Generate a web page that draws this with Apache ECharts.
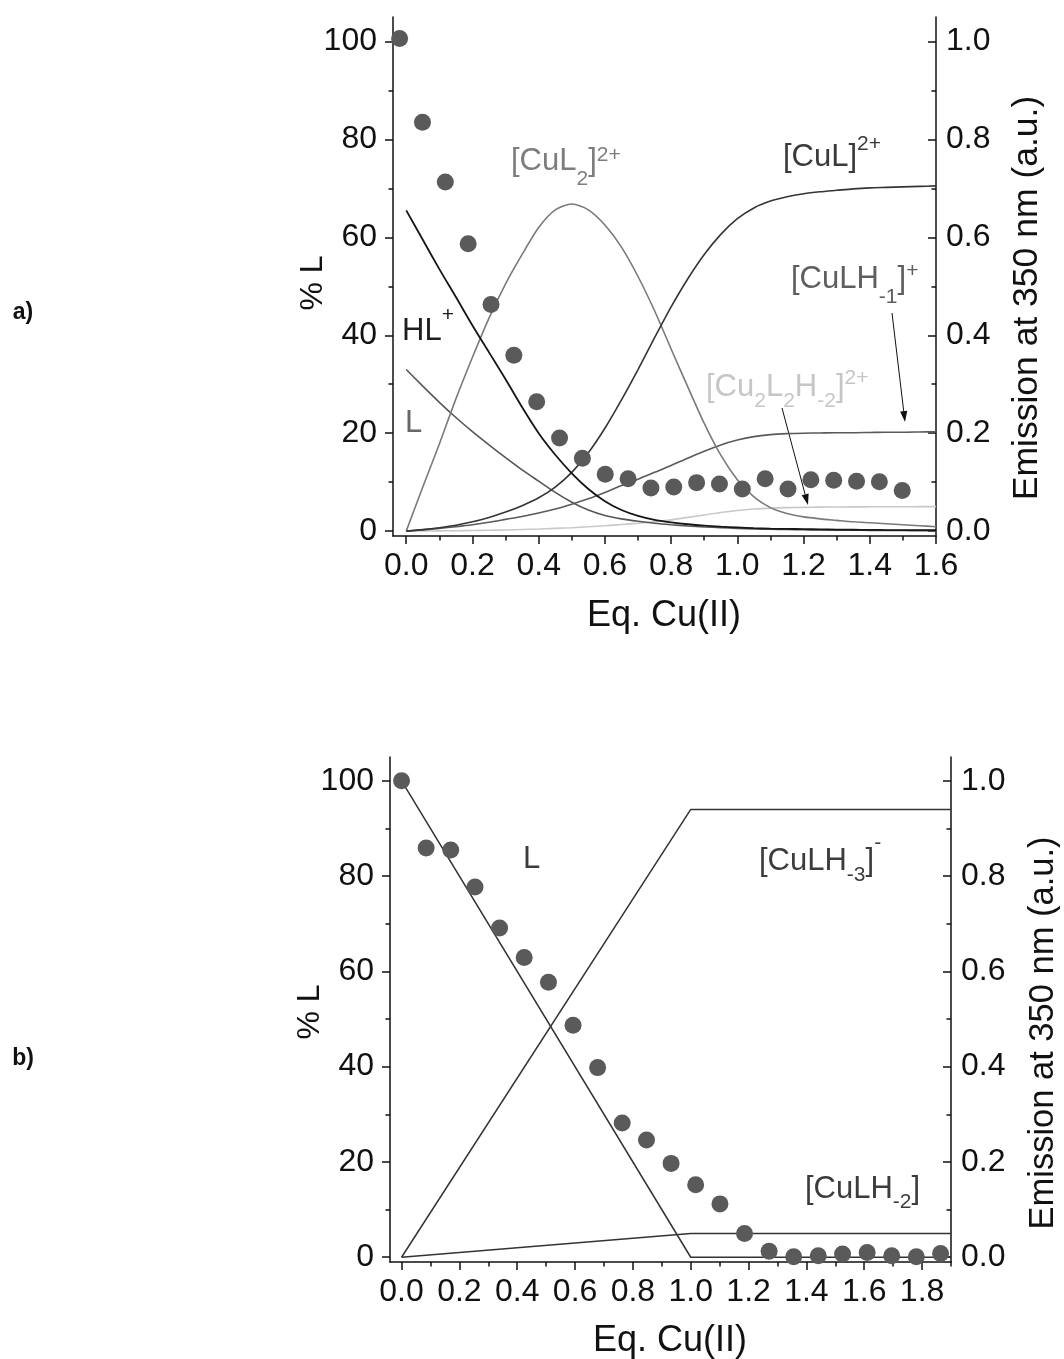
<!DOCTYPE html>
<html><head><meta charset="utf-8">
<script src="https://cdn.jsdelivr.net/npm/echarts@6/dist/echarts.min.js"></script>
<style>html,body{margin:0;padding:0;background:#fff}#c{width:1064px;height:1359px}</style>
</head><body><div id="c"></div>
<script>
// ---------- DATA ----------
// Panel a) species distribution (% L) vs Eq. Cu(II)
const topX   = [0,0.05,0.1,0.15,0.2,0.25,0.3,0.35,0.4,0.45,0.5,0.55,0.6,0.65,0.7,0.75,0.8,0.85,0.9,0.95,1.0,1.05,1.1,1.15,1.2,1.25,1.3,1.35,1.4,1.45,1.5,1.55,1.6];
const topHL  = [65.5,59.5,53.5,47.8,42.0,36.5,31.0,25.3,20.0,15.6,11.8,8.6,6.1,4.3,3.1,2.3,1.8,1.4,1.1,0.9,0.75,0.6,0.5,0.45,0.4,0.35,0.3,0.28,0.25,0.22,0.2,0.19,0.18];
const topL   = [33,29.6,26.3,23.2,20.3,17.6,15.0,12.5,10.2,7.9,5.9,4.3,3.2,2.5,2.0,1.6,1.3,1.05,0.85,0.7,0.55,0.45,0.38,0.32,0.27,0.23,0.2,0.17,0.15,0.13,0.11,0.1,0.09];
const topCuL2 = [0,9.0,17.8,27.0,35.5,43.5,50.5,56.5,62.0,65.6,66.8,65.6,62.5,58.0,52.0,45.0,37.2,29.5,22.0,15.5,10.5,7.0,4.8,3.6,2.9,2.5,2.2,1.9,1.7,1.5,1.3,1.1,0.9];
const topCuL  = [0,0.3,0.7,1.2,1.9,2.8,3.9,5.2,6.8,9.0,12.0,16.0,21.0,26.8,33.0,39.5,45.8,51.5,56.5,60.6,63.8,66.0,67.4,68.3,68.9,69.3,69.6,69.9,70.1,70.2,70.3,70.4,70.5];
const topCuLH1 = [0,0.25,0.55,0.9,1.3,1.8,2.4,3.0,3.7,4.5,5.5,6.6,7.9,9.3,10.6,12.0,13.4,14.9,16.3,17.6,18.6,19.3,19.7,19.9,20.0,20.05,20.1,20.1,20.15,20.2,20.2,20.25,20.3];
const topCu2L2H2 = [0,0.02,0.05,0.08,0.12,0.17,0.24,0.32,0.42,0.55,0.7,0.88,1.1,1.35,1.6,1.9,2.3,2.8,3.3,3.8,4.2,4.5,4.7,4.8,4.85,4.9,4.92,4.94,4.96,4.97,4.98,4.99,5.0];
// Panel a) emission at 350 nm
const topEmX = [-0.02,0.049,0.118,0.187,0.256,0.325,0.394,0.463,0.532,0.601,0.670,0.739,0.808,0.877,0.946,1.015,1.084,1.153,1.222,1.291,1.360,1.429,1.498];
const topEm  = [1.006,0.835,0.713,0.587,0.463,0.359,0.264,0.190,0.149,0.116,0.107,0.088,0.090,0.099,0.096,0.086,0.107,0.086,0.105,0.104,0.102,0.101,0.083];

// Panel b) species distribution
const botX      = [0,1.0,1.9];
const botL      = [100,0,0];
const botCuLH3  = [0,94,94];
const botCuLH2  = [0,5,5];
// Panel b) emission
const botEmX = [0,0.085,0.17,0.254,0.339,0.424,0.508,0.593,0.678,0.763,0.847,0.932,1.017,1.101,1.186,1.271,1.356,1.441,1.525,1.61,1.695,1.78,1.864];
const botEm  = [1.0,0.859,0.855,0.777,0.691,0.629,0.577,0.487,0.398,0.282,0.246,0.197,0.152,0.112,0.050,0.0125,0.001,0.003,0.007,0.010,0.003,0.001,0.008];

// Ticks
const topXMajor = [0,0.2,0.4,0.6,0.8,1.0,1.2,1.4,1.6];
const topXMinor = [0.1,0.3,0.5,0.7,0.9,1.1,1.3,1.5];
const botXMajor = [0,0.2,0.4,0.6,0.8,1.0,1.2,1.4,1.6,1.8];
const botXMinor = [0.1,0.3,0.5,0.7,0.9,1.1,1.3,1.5,1.7,1.9];
const leftMajor = [0,20,40,60,80,100];
const leftMinor = [10,30,50,70,90];
const rightMajor = [0,0.2,0.4,0.6,0.8,1.0];
const rightMinor = [0.1,0.3,0.5,0.7,0.9];

// ---------- STYLE ----------
const FF = '"Liberation Sans", Arial, Helvetica, sans-serif';
const AX = '#111';
const pairs = (xs, ys) => xs.map((x, i) => [x, ys[i]]);

function xAxes(grid, min, max, major, minor) {
  return [
    { type:'value', gridIndex:grid, min, max, position:'bottom',
      axisLine:{show:true, onZero:false, lineStyle:{color:AX, width:1.5}},
      axisTick:{show:true, length:8, customValues:major, lineStyle:{color:AX, width:1.5}},
      axisLabel:{show:true, customValues:major, formatter:v=>v.toFixed(1), fontSize:32, fontFamily:FF, color:AX, margin:14},
      splitLine:{show:false} },
    { type:'value', gridIndex:grid, min, max, position:'bottom',
      axisLine:{show:false, onZero:false},
      axisTick:{show:true, length:4.5, customValues:minor, lineStyle:{color:AX, width:1.5}},
      axisLabel:{show:false}, splitLine:{show:false} }
  ];
}
function yAxes(grid) {
  return [
    { type:'value', gridIndex:grid, min:-1, max:105, position:'left',
      axisLine:{show:true, onZero:false, lineStyle:{color:AX, width:1.5}},
      axisTick:{show:true, length:8, customValues:leftMajor, lineStyle:{color:AX, width:1.5}},
      axisLabel:{show:true, customValues:leftMajor, fontSize:32, fontFamily:FF, color:AX, margin:16},
      splitLine:{show:false} },
    { type:'value', gridIndex:grid, min:-1, max:105, position:'left',
      axisLine:{show:false, onZero:false},
      axisTick:{show:true, length:4.5, customValues:leftMinor, lineStyle:{color:AX, width:1.5}},
      axisLabel:{show:false}, splitLine:{show:false} },
    { type:'value', gridIndex:grid, min:-0.01, max:1.05, position:'right',
      axisLine:{show:true, onZero:false, lineStyle:{color:AX, width:1.5}},
      axisTick:{show:true, inside:true, length:8, customValues:rightMajor, lineStyle:{color:AX, width:1.5}},
      axisLabel:{show:true, customValues:rightMajor, formatter:v=>v.toFixed(1), fontSize:32, fontFamily:FF, color:AX, margin:10},
      splitLine:{show:false} },
    { type:'value', gridIndex:grid, min:-0.01, max:1.05, position:'right',
      axisLine:{show:false, onZero:false},
      axisTick:{show:true, inside:true, length:4.5, customValues:rightMinor, lineStyle:{color:AX, width:1.5}},
      axisLabel:{show:false}, splitLine:{show:false} }
  ];
}
function lineS(xi, yi, xs, ys, color, w, smooth) {
  return { type:'line', xAxisIndex:xi, yAxisIndex:yi, data:pairs(xs, ys), showSymbol:false, symbol:'none',
    smooth: smooth ? 0.25 : false, lineStyle:{color, width:w}, z:2, silent:true, animation:false };
}
function scatS(xi, yi, xs, ys) {
  return { type:'scatter', xAxisIndex:xi, yAxisIndex:yi, data:pairs(xs, ys), symbolSize:17,
    itemStyle:{color:'#5a5a5a', opacity:1}, z:5, silent:true, animation:false };
}

// ---------- TEXT HELPERS ----------
const mctx = document.createElement('canvas').getContext('2d');
function tw(t, size){ mctx.font = size + 'px ' + FF; return mctx.measureText(t).width; }
const MAIN = 31, SMALL = 21;
function textEl(x, baseline, t, size, color) {
  return { type:'text', x, y: baseline - 0.3465*size, silent:true,
    style:{ text:t, font: size + 'px ' + FF, fill:color, align:'left', verticalAlign:'middle',
      textAlign:'left', textVerticalAlign:'middle' } };
}
// parts: [text, kind('n'|'b'|'p'), dy]
function chemLabel(x0, base, parts, color) {
  let x = x0; const out = [];
  parts.forEach(([t, kind, dy]) => {
    const size = kind === 'n' ? MAIN : SMALL;
    out.push(textEl(x, base + (dy || 0), t, size, color));
    x += tw(t, size);
  });
  return out;
}
function arrow(x1, y1, x2, y2) {
  const a = Math.atan2(y2 - y1, x2 - x1), L = 11, W = 3.6;
  const bx = x2 - L*Math.cos(a), by = y2 - L*Math.sin(a);
  const px = -Math.sin(a)*W, py = Math.cos(a)*W;
  return [
    { type:'line', silent:true, shape:{x1, y1, x2:bx, y2:by}, style:{stroke:'#111', lineWidth:1} },
    { type:'polygon', silent:true, shape:{points:[[x2,y2],[bx+px,by+py],[bx-px,by-py]]}, style:{fill:'#111'} }
  ];
}
function rotText(x, y, t, size, color) {
  return { type:'text', x, y, rotation: Math.PI/2, silent:true,
    style:{ text:t, font: size + 'px ' + FF, fill:color, align:'center', verticalAlign:'middle',
      textAlign:'center', textVerticalAlign:'middle' } };
}
function ctrText(x, y, t, size, color, weight) {
  return { type:'text', x, y, silent:true,
    style:{ text:t, font: (weight ? weight + ' ' : '') + size + 'px ' + FF, fill:color, align:'center', verticalAlign:'middle',
      textAlign:'center', textVerticalAlign:'middle' } };
}

const graphics = [].concat(
  // panel labels
  [ctrText(23, 313, 'a)', 23, '#111', 'bold'), ctrText(23, 1059, 'b)', 23, '#111', 'bold')],
  // axis names
  [rotText(313, 283, '% L', 32, AX), rotText(310, 1012, '% L', 32, AX),
   ctrText(664, 616, 'Eq. Cu(II)', 36, AX), ctrText(670, 1341, 'Eq. Cu(II)', 36, AX),
   rotText(1027, 298, 'Emission at 350 nm (a.u.)', 35.5, AX), rotText(1043, 1033, 'Emission at 350 nm (a.u.)', 34.5, AX)],
  // panel a annotations
  chemLabel(511, 172, [['[CuL','n'],['2','b',14],[']','n'],['2+','p',-10]], '#7d7d7d'),
  chemLabel(783, 168, [['[CuL]','n'],['2+','p',-17]], '#3a3a3a'),
  chemLabel(791, 290, [['[CuLH','n'],['-1','b',14],[']','n'],['+','p',-12]], '#5e5e5e'),
  chemLabel(402, 342, [['HL','n'],['+','p',-20]], '#1e1e1e'),
  chemLabel(405, 434, [['L','n']], '#676767'),
  chemLabel(706, 398, [['[Cu','n'],['2','b',10],['L','n'],['2','b',10],['H','n'],['-2','b',10],[']','n'],['2+','p',-13]], '#c6c6c6'),
  arrow(892, 313, 905, 422),
  arrow(782, 408, 808, 505),
  // panel b annotations
  chemLabel(523, 870, [['L','n']], '#3c3c3c'),
  chemLabel(759, 872, [['[CuLH','n'],['-3','b',10],[']','n'],['-','p',-22]], '#3c3c3c'),
  chemLabel(805, 1200, [['[CuLH','n'],['-2','b',9],[']','n']], '#3c3c3c')
);

const option = {
  animation:false,
  backgroundColor:'#fff',
  grid:[
    {left:393, top:17, width:543, height:519},
    {left:390, top:757, width:561, height:505}
  ],
  xAxis: [].concat(xAxes(0, -0.04, 1.6, topXMajor, topXMinor), xAxes(1, -0.04, 1.9, botXMajor, botXMinor)),
  yAxis: [].concat(yAxes(0), yAxes(1)),
  series:[
    lineS(0, 0, topX, topCu2L2H2, '#c8c8c8', 1.6, true),
    lineS(0, 0, topX, topL, '#575757', 1.6, true),
    lineS(0, 0, topX, topCuLH1, '#5a5a5a', 1.6, true),
    lineS(0, 0, topX, topCuL2, '#7a7a7a', 1.6, true),
    lineS(0, 0, topX, topCuL, '#353535', 1.6, true),
    lineS(0, 0, topX, topHL, '#161616', 1.8, true),
    scatS(0, 2, topEmX, topEm),
    lineS(2, 4, botX, botL, '#333', 1.5, false),
    lineS(2, 4, botX, botCuLH3, '#333', 1.5, false),
    lineS(2, 4, botX, botCuLH2, '#333', 1.5, false),
    scatS(2, 6, botEmX, botEm)
  ],
  graphic: graphics
};
const chart = echarts.init(document.getElementById('c'), null, {renderer:'canvas'});
chart.setOption(option);
</script></body></html>
